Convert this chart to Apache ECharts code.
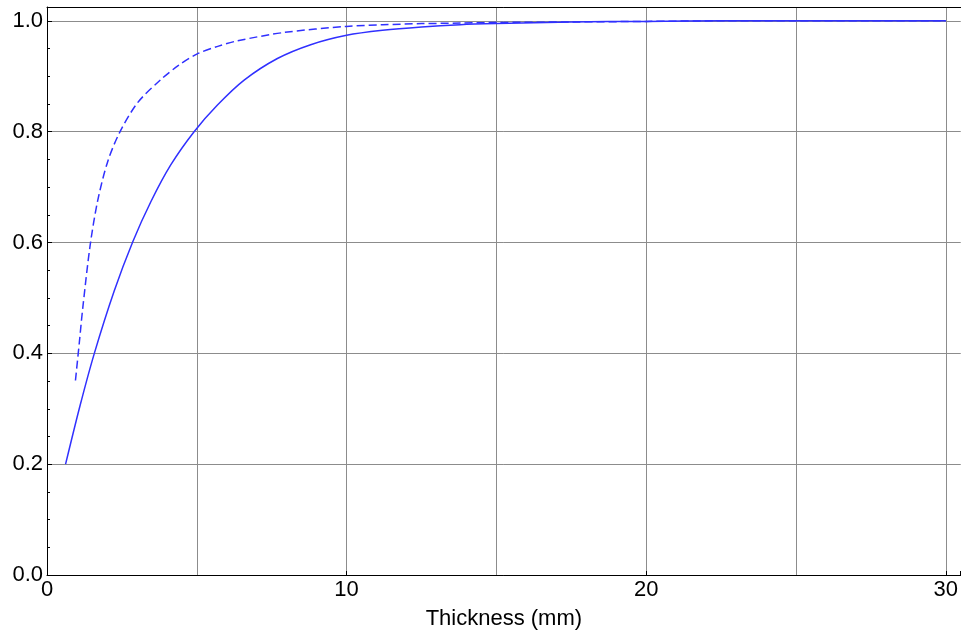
<!DOCTYPE html>
<html>
<head>
<meta charset="utf-8">
<script src="https://cdn.jsdelivr.net/npm/echarts@6/dist/echarts.min.js"></script>
<style>
  html, body { margin: 0; padding: 0; background: #fff; }
  #chart { width: 961px; height: 635px; }
</style>
</head>
<body>
<div id="chart"></div>
<script>
// Solid curve: sampled (thickness mm, value)
const solidX = [0.62, 1.1, 1.58, 2.24, 2.86, 3.47, 4.13, 4.91, 5.69, 6.58, 7.69, 8.8, 10.0, 11.2, 12.5, 13.8, 15, 17.5, 20, 22.5, 25, 27.5, 30];
const solidY = [0.2, 0.305, 0.4, 0.512, 0.601, 0.674, 0.740, 0.8, 0.848, 0.893, 0.932, 0.957, 0.974, 0.983, 0.989, 0.993, 0.995, 0.998, 0.999, 1.0, 1.0, 1.0, 1.0];

// Dashed curve: sampled (thickness mm, value)
const dashedX = [0.95, 1.08, 1.19, 1.44, 1.69, 2.02, 2.41, 3.02, 3.8, 4.4, 5.0, 5.7, 6.36, 7.91, 10.0, 11.2, 12.5, 13.8, 15, 17.5, 20, 22.5, 25, 27.5, 30];
const dashedY = [0.351, 0.42, 0.48, 0.595, 0.675, 0.745, 0.797, 0.852, 0.894, 0.92, 0.94, 0.954, 0.964, 0.979, 0.99, 0.993, 0.995, 0.996, 0.997, 0.998, 0.999, 1.0, 1.0, 1.0, 1.0];

const xName = 'Thickness (mm)';
const xLabelStep = 10;
const yLabelStep = 0.2;

const pairs = (xs, ys) => xs.map((x, i) => [x, ys[i]]);

const FONT = '"Liberation Sans", Arial, Helvetica, sans-serif';
const FONT_SIZE = 22;
const GRID_COLOR = '#8c8c8c';
const LINE_COLOR = '#3030ff';

const chart = echarts.init(document.getElementById('chart'), null, { renderer: 'canvas' });

const isMultiple = (v, step) => Math.abs(v / step - Math.round(v / step)) < 1e-6;

chart.setOption({
  animation: false,
  backgroundColor: '#ffffff',
  grid: { left: 47, right: 0, top: 7, bottom: 60, containLabel: false },
  xAxis: [
    {
      type: 'value', position: 'bottom', min: 0, max: 30.5, interval: 5,
      name: xName, nameLocation: 'middle', nameGap: 33,
      nameTextStyle: { fontFamily: FONT, fontSize: FONT_SIZE, color: '#000' },
      axisLine: { show: true, onZero: false, lineStyle: { color: '#000', width: 1 } },
      axisTick: { show: false },
      axisLabel: {
        fontFamily: FONT, fontSize: FONT_SIZE, color: '#000', margin: 4,
        showMaxLabel: false,
        formatter: v => isMultiple(v, xLabelStep) ? String(Math.round(v)) : ''
      },
      splitLine: { show: true, showMaxLine: false, lineStyle: { color: GRID_COLOR, width: 1 } }
    },
    {
      type: 'value', position: 'bottom', min: 0, max: 30.5, interval: xLabelStep,
      axisLine: { show: false },
      axisTick: { show: true, inside: true, length: 4, lineStyle: { color: '#000' } },
      axisLabel: { show: false },
      splitLine: { show: false }
    },
    {
      type: 'value', position: 'top', min: 0, max: 30.5,
      axisLine: { show: true, onZero: false, lineStyle: { color: '#000', width: 1 } },
      axisTick: { show: false },
      axisLabel: { show: false },
      splitLine: { show: false }
    }
  ],
  yAxis: [
    {
      type: 'value', position: 'left', min: 0, max: 1.025, interval: 0.05,
      axisLine: { show: true, onZero: false, lineStyle: { color: '#000', width: 1 } },
      axisTick: { show: true, inside: true, length: 3, lineStyle: { color: '#000' } },
      axisLabel: {
        fontFamily: FONT, fontSize: FONT_SIZE, color: '#000', margin: 4,
        showMaxLabel: false,
        formatter: v => isMultiple(v, yLabelStep) ? v.toFixed(1) : ''
      },
      splitLine: {
        show: true, showMaxLine: false,
        lineStyle: { color: [GRID_COLOR, 'rgba(0,0,0,0)', 'rgba(0,0,0,0)', 'rgba(0,0,0,0)'], width: 1 }
      }
    },
    {
      type: 'value', position: 'left', min: 0, max: 1.025, interval: yLabelStep,
      axisLine: { show: false },
      axisTick: { show: true, inside: true, length: 5, lineStyle: { color: '#000' } },
      axisLabel: { show: false },
      splitLine: { show: false }
    }
  ],
  series: [
    {
      name: 'solid', type: 'line', xAxisIndex: 0, yAxisIndex: 0,
      data: pairs(solidX, solidY),
      smooth: 0.3, showSymbol: false, symbol: 'none',
      lineStyle: { color: LINE_COLOR, width: 1.5 }
    },
    {
      name: 'dashed', type: 'line', xAxisIndex: 0, yAxisIndex: 0,
      data: pairs(dashedX, dashedY),
      smooth: 0.3, showSymbol: false, symbol: 'none',
      lineStyle: { color: LINE_COLOR, width: 1.5, type: [8, 4] }
    }
  ]
});
</script>
</body>
</html>
